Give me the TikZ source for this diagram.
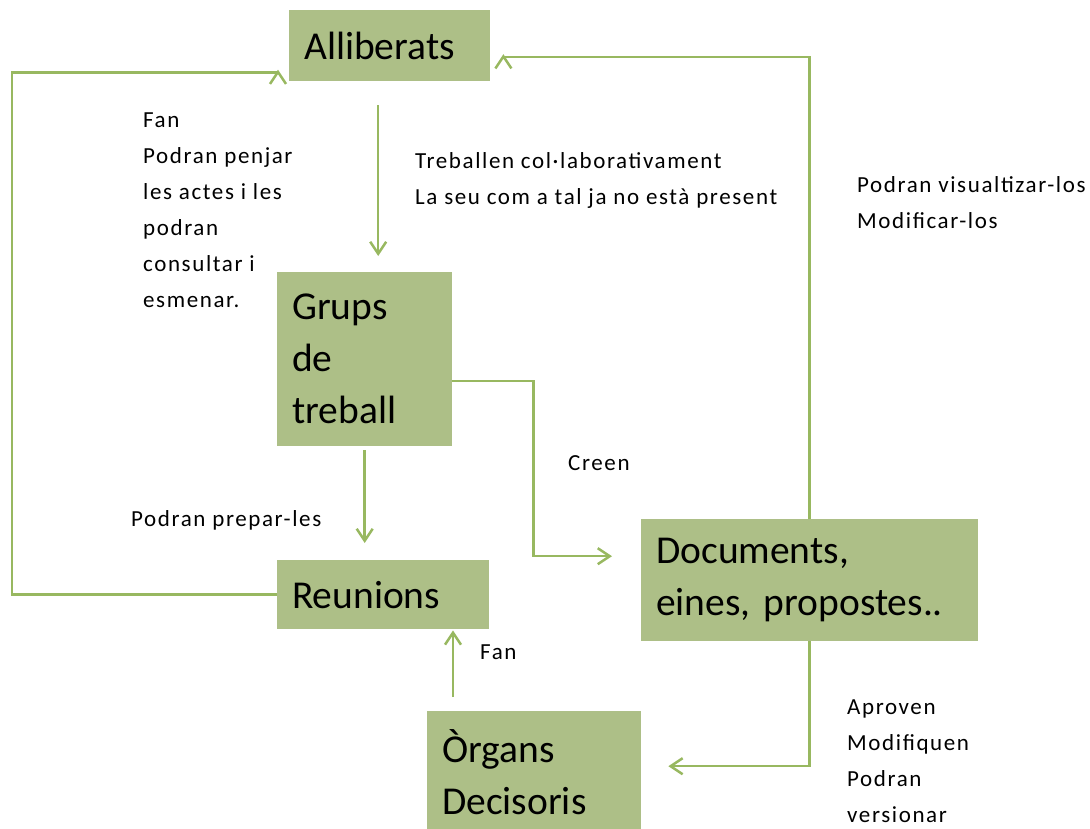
\documentclass[tikz,border=0pt]{standalone}
\usepackage{fontspec}
\setmainfont{Carlito}
\newfontfamily\labelfont{Carlito}[LetterSpace=7]
\usetikzlibrary{arrows.meta}
\definecolor{boxgreen}{RGB}{173,191,135}
\definecolor{linegreen}{RGB}{152,184,96}

\begin{document}
\begin{tikzpicture}[x=1pt, y=-1pt,
    box/.style={fill=boxgreen, anchor=north west, align=left, inner xsep=15pt, inner ysep=0pt, font=\fontsize{39.5}{52}\selectfont},
    note/.style={anchor=north west, align=left, inner sep=0pt, font=\labelfont\fontsize{23}{36}\selectfont},
    link/.style={draw=linegreen, line width=2.5pt, -{Straight Barb[length=12pt, width=16pt]}}]
    \useasboundingbox (0,0) rectangle (1090,828);

    \node (allib) [box, text width=171pt, minimum height=71pt] at (289,10) {Alliberats};
    \node (grups) [box, text width=145pt, minimum height=174pt] at (277,272) {Grups\\de\\treball};
    \node (reu) [box, text width=182pt, minimum height=69pt] at (277,560) {Reunions};
    \node (docs) [box, text width=307pt, minimum height=122pt] at (641,519) {Documents,\\eines, propostes..};
    \node (orgs) [box, text width=184pt, minimum height=122pt] at (427,711) {Òrgans\\Decisoris};

    \node (fanleft) [note] at (143,113) {Fan\\Podran penjar\\les actes i les\\podran\\consultar i\\esmenar.};
    \node (treb) [note] at (415,152) {Treballen col·laborativament\\La seu com a tal ja no està present};
    \node (visual) [note] at (857,176) {Podran visualtizar-los\\Modificar-los};
    \node (creen) [note] at (568,455) {Creen};
    \node (prepar) [note] at (131,510) {Podran prepar-les};
    \node (fanlow) [note] at (480,645) {Fan};
    \node (aprov) [note] at (847,700) {Aproven\\Modifiquen\\Podran\\versionar};

    \draw[link, shorten <=24pt, shorten >=16pt] ([xshift=-11.5pt]allib.south) -- ([xshift=-11.5pt]allib.south |- grups.north);
    \draw[link, shorten <=4pt, shorten >=17pt] (grups.south) -- (grups.south |- reu.north);
    \draw[link, shorten >=29pt] ([yshift=-22pt]grups.east) -- ++(81,0) |- ([yshift=24pt]docs.west);
    \draw[link] (docs.north) |- ([xshift=13pt, yshift=-11.5pt]allib.east) -- ++(0,-3);
    \draw[link] (reu.west) -- ++(-265,0) |- ([xshift=-11pt, yshift=-27pt]allib.west) -- ++(0,-3);
    \draw[link, shorten >=27pt] (docs.south) |- ([yshift=6pt]orgs.east);
    \draw[link, shorten <=14pt, shorten >=1pt] ([xshift=26pt]orgs.north west) -- ([xshift=26pt]orgs.north west |- reu.south);

\end{tikzpicture}
\end{document}
